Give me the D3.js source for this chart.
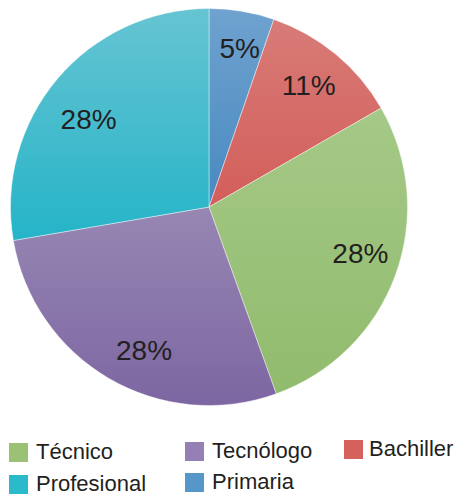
<!DOCTYPE html>
<html><head><meta charset="utf-8">
<script src="https://cdn.jsdelivr.net/npm/d3@7"></script>
<style>html,body{margin:0;padding:0;background:#fff;}svg{display:block;}</style>
</head><body>
<svg id="chart" width="457" height="495"></svg>
<script>
// Data (clockwise from 12 o'clock)
const categories = ["Primaria", "Bachiller", "Técnico", "Tecnólogo", "Profesional"];
const values = [5.3, 11.4, 27.8, 27.8, 27.7];
const labels = ["5%", "11%", "28%", "28%", "28%"];
const legendOrder = ["Técnico", "Tecnólogo", "Bachiller", "Profesional", "Primaria"];

// Styles
const topColors = {"Primaria":"#6fa2cf","Bachiller":"#d87b77","Técnico":"#a5c987","Tecnólogo":"#9787b3","Profesional":"#66c4d2"};
const baseColors = {"Primaria":"#4889bf","Bachiller":"#d35e5a","Técnico":"#91bb6d","Tecnólogo":"#7d66a2","Profesional":"#25b4c8"};
const swatchColors = {"Primaria":"#5597c8","Bachiller":"#d6605b","Técnico":"#9bc175","Tecnólogo":"#9580b5","Profesional":"#2bbacc"};
const labelNudge = {"Primaria":[5,-6],"Bachiller":[1,-3],"Técnico":[6,-7],"Tecnólogo":[13,9],"Profesional":[-2,12]};

const svg = d3.select("#chart");
const cx = 209, cy = 207, R = 198.5;

const defs = svg.append("defs");
categories.forEach((c, i) => {
  const g = defs.append("linearGradient").attr("id", "g" + i)
    .attr("x1", 0).attr("y1", 0).attr("x2", 0).attr("y2", 1);
  g.append("stop").attr("offset", "0%").attr("stop-color", topColors[c]);
  g.append("stop").attr("offset", "100%").attr("stop-color", baseColors[c]);
});

const pie = d3.pie().sort(null).value(d => d)(values);
const arc = d3.arc().innerRadius(0).outerRadius(R);
const labelArc = d3.arc().innerRadius(R * 0.56).outerRadius(R * 1.0);

const g = svg.append("g").attr("transform", `translate(${cx},${cy})`);
g.selectAll("path.slice").data(pie).enter().append("path")
  .attr("class", "slice")
  .attr("d", arc)
  .attr("fill", (d, i) => `url(#g${i})`)
  .attr("stroke", "#ffffff").attr("stroke-width", 0.6).attr("stroke-opacity", 0.7);

g.selectAll("text.lbl").data(pie).enter().append("text")
  .attr("class", "lbl")
  .attr("transform", (d, i) => {
    const [x, y] = labelArc.centroid(d);
    const n = labelNudge[categories[i]];
    return `translate(${x + n[0]},${y + n[1]})`;
  })
  .attr("text-anchor", "middle").attr("dy", "0.35em")
  .attr("font-family", "Liberation Sans, Arial, sans-serif")
  .attr("font-size", 28).attr("fill", "#231f20")
  .text((d, i) => labels[i]);

// Legend
const colX = [9, 185, 344];
const textX = [36, 212, 369];
const rowY = [[443, 442, 440], [475, 473, 471]];
const leg = svg.append("g");
legendOrder.forEach((c, k) => {
  const col = k % 3, row = Math.floor(k / 3);
  const y = rowY[row][col];
  leg.append("rect").attr("x", colX[col]).attr("y", y).attr("width", 19).attr("height", 19)
    .attr("fill", swatchColors[c]);
  leg.append("text").attr("x", textX[col]).attr("y", y + 16)
    .attr("font-family", "Liberation Sans, Arial, sans-serif")
    .attr("font-size", 22).attr("fill", "#231f20").text(c);
});
</script>
</body></html>
